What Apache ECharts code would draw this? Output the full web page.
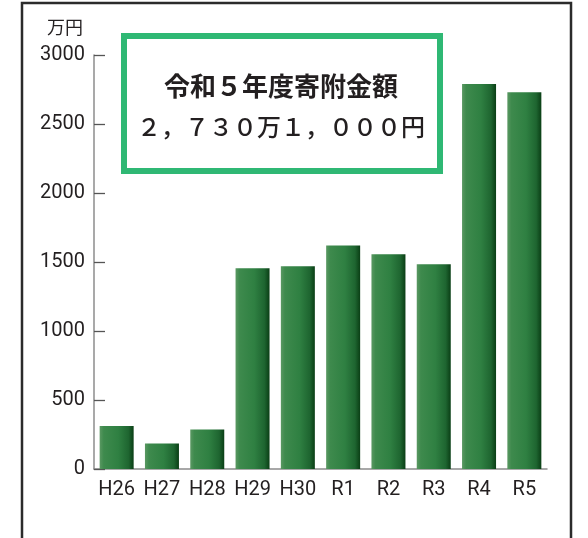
<!DOCTYPE html>
<html>
<head>
<meta charset="utf-8">
<script src="https://cdn.jsdelivr.net/npm/echarts@6/dist/echarts.min.js"></script>
<style>
  html, body { margin: 0; padding: 0; background: #fff; }
  #chart { width: 588px; height: 538px; }
</style>
</head>
<body>
<div id="chart"></div>
<script>
// 年度
const years = ['H26', 'H27', 'H28', 'H29', 'H30', 'R1', 'R2', 'R3', 'R4', 'R5']
// 寄附金額（万円）
const amounts = [312, 185, 286, 1455, 1470, 1620, 1557, 1484, 2790, 2730]
// 縦軸
const yMin = 0
const yMax = 3000
const yStep = 500

const unitLabel = '万円'
const boxTitle = '令和５年度寄附金額'
const boxValue = '２，７３０万１，０００円'

const textColor = '#231f20'
const boxColor = '#2fb874'

const chart = echarts.init(document.getElementById('chart'))

// 棒の色（左が明るく右が暗い）
const barColor = new echarts.graphic.LinearGradient(0, 0, 1, 0, [
  { offset: 0, color: '#5a9862' },
  { offset: 0.12, color: '#3e8a4d' },
  { offset: 0.55, color: '#2f8042' },
  { offset: 0.85, color: '#1e6530' },
  { offset: 1, color: '#0a3e15' }
])

const option = {
  animation: false,
  backgroundColor: '#fff',
  grid: {
    left: 94,
    right: 41,
    top: 55,
    bottom: 69
  },
  xAxis: {
    type: 'category',
    data: years,
    boundaryGap: true,
    axisLine: { lineStyle: { color: '#8c8c8c', width: 1.5 } },
    axisTick: {
      inside: true,
      length: 10,
      interval: 0,
      lineStyle: { color: '#8c8c8c', width: 1.2 }
    },
    axisLabel: {
      interval: 0,
      margin: 11,
      color: textColor,
      fontFamily: 'Roboto',
      fontSize: 20
    }
  },
  yAxis: {
    type: 'value',
    min: yMin,
    max: yMax,
    interval: yStep,
    splitLine: { show: false },
    axisLine: { show: true, lineStyle: { color: '#8c8c8c', width: 1.5 } },
    axisTick: {
      show: true,
      inside: true,
      length: 11,
      lineStyle: { color: '#555', width: 1.3 }
    },
    axisLabel: {
      margin: 9,
      color: textColor,
      fontFamily: 'Roboto',
      fontSize: 20,
      formatter: v => String(v)
    }
  },
  series: [
    {
      type: 'bar',
      data: amounts,
      barWidth: 34,
      itemStyle: { color: barColor }
    }
  ],
  graphic: [
    // 外枠
    {
      type: 'rect',
      shape: { x: 22, y: 3, width: 549, height: 600 },
      style: { fill: 'none', stroke: '#2b2b2b', lineWidth: 2.5 },
      silent: true
    },
    // 単位
    {
      type: 'text',
      x: 65,
      y: 27,
      style: {
        text: unitLabel,
        fill: textColor,
        font: '18px "Noto Sans CJK JP"',
        align: 'center',
        verticalAlign: 'middle'
      }
    },
    // 緑の枠
    {
      type: 'rect',
      shape: { x: 124, y: 36, width: 316, height: 135 },
      style: { fill: '#fff', stroke: boxColor, lineWidth: 6 },
      z: 10
    },
    {
      type: 'text',
      x: 281,
      y: 86,
      z: 11,
      style: {
        text: boxTitle,
        fill: textColor,
        font: 'bold 26px "Noto Sans CJK JP"',
        align: 'center',
        verticalAlign: 'middle'
      }
    },
    {
      type: 'text',
      x: 281,
      y: 127,
      z: 11,
      style: {
        text: boxValue,
        fill: textColor,
        font: '500 24px "Noto Sans CJK JP"',
        align: 'center',
        verticalAlign: 'middle'
      }
    }
  ]
}

chart.setOption(option)
</script>
</body>
</html>
